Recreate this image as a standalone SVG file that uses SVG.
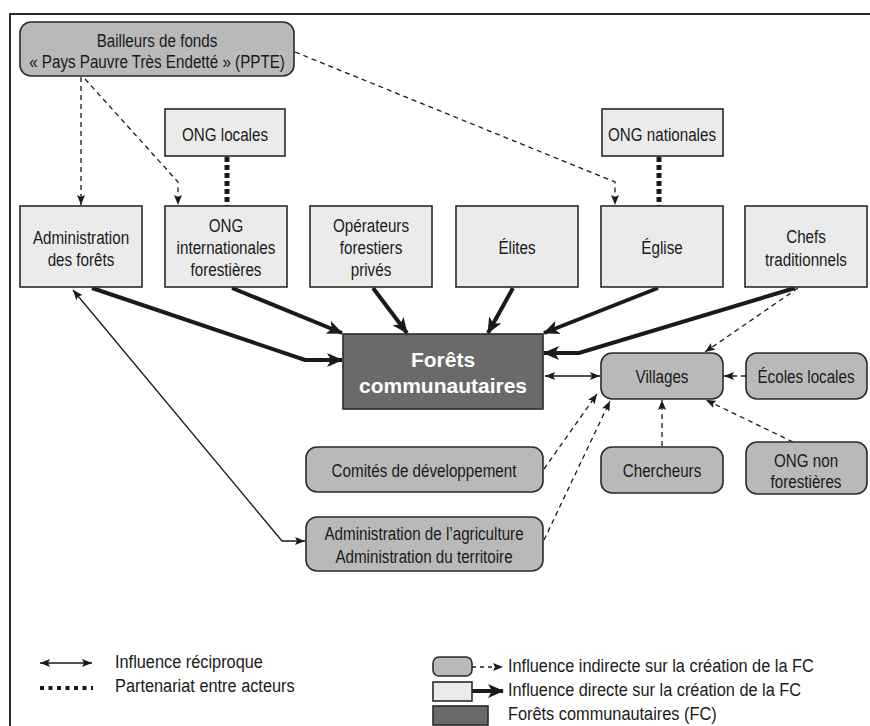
<svg xmlns="http://www.w3.org/2000/svg" width="870" height="726" viewBox="0 0 870 726">
<style>
.t{font-family:"Liberation Sans",Arial,sans-serif;font-size:19px;fill:#1a1a1a;text-anchor:middle}
.tl{font-family:"Liberation Sans",Arial,sans-serif;font-size:19px;fill:#1a1a1a}
.fc{font-family:"Liberation Sans",Arial,sans-serif;font-size:21px;font-weight:bold;fill:#ffffff;text-anchor:middle}
.light{fill:#ebebeb;stroke:#2a2a2a;stroke-width:1.6}
.gray{fill:#b9b9b9;stroke:#2a2a2a;stroke-width:1.6}
.dark{fill:#6a6a6a;stroke:#2a2a2a;stroke-width:1.6}
.thick{fill:none;stroke:#1a1a1a;stroke-width:4;marker-end:url(#ah)}
.dash{fill:none;stroke:#1a1a1a;stroke-width:1.3;stroke-dasharray:5 4;marker-end:url(#as)}
.thin{fill:none;stroke:#1a1a1a;stroke-width:1.3;marker-end:url(#as);marker-start:url(#as)}
.part{fill:none;stroke:#1a1a1a;stroke-width:5;stroke-dasharray:5 3}
</style>
<defs>
<marker id="ah" markerUnits="userSpaceOnUse" markerWidth="16" markerHeight="14" refX="15" refY="7" orient="auto">
<path d="M0,0 L16,7 L0,14 L4,7 z" fill="#1a1a1a"/>
</marker>
<marker id="as" markerUnits="userSpaceOnUse" markerWidth="10" markerHeight="8" refX="10" refY="4" orient="auto-start-reverse">
<path d="M0,0 L10,4 L0,8 L2,4 z" fill="#1a1a1a"/>
</marker>
</defs>
<rect width="870" height="726" fill="#ffffff"/>
<path d="M870,14 H10 V726" fill="none" stroke="#2a2a2a" stroke-width="2"/>

<g id="connectors">
<path class="part" d="M227,157 V206"/>
<path class="part" d="M659,157 V206"/>
<path class="dash" d="M81,77 V205"/>
<path class="dash" d="M85,79 L178,182 V205"/>
<path class="dash" d="M295,52 L615,182 V205"/>
<path class="thick" d="M92,288 L305,360 H342"/>
<path class="thick" d="M232,288 L342,333"/>
<path class="thick" d="M373,288 L407,333"/>
<path class="thick" d="M513,288 L488,333"/>
<path class="thick" d="M658,288 L544,333"/>
<path class="thick" d="M795,288 L579,353 H544"/>
<path class="thin" d="M545,376 H600"/>
<path class="dash" d="M798,288 L705,352"/>
<path class="dash" d="M746,376 H724"/>
<path class="dash" d="M662,446 V400"/>
<path class="dash" d="M793,442 L706,400"/>
<path class="dash" d="M544,469 L597,394"/>
<path class="dash" d="M544,540 L610,401"/>
<path class="thin" d="M73,290 L282,541 H305"/>
</g>

<g id="bailleurs">
<rect class="gray" x="20" y="22" width="274" height="54" rx="11"/>
<text class="t" transform="translate(157,47) scale(.8,1)">Bailleurs de fonds</text>
<text class="t" transform="translate(157,68) scale(.8,1)">« Pays Pauvre Très Endetté » (PPTE)</text>
</g>
<g id="ong-locales">
<rect class="light" x="165" y="109" width="120" height="47"/>
<text class="t" transform="translate(225,141) scale(.8,1)">ONG locales</text>
</g>
<g id="ong-nationales">
<rect class="light" x="602" y="109" width="121" height="47"/>
<text class="t" transform="translate(662,141) scale(.8,1)">ONG nationales</text>
</g>
<g id="admin-forets">
<rect class="light" x="20" y="206" width="122" height="81"/>
<text class="t" transform="translate(81,244) scale(.8,1)">Administration</text>
<text class="t" transform="translate(81,266) scale(.8,1)">des forêts</text>
</g>
<g id="ong-internationales">
<rect class="light" x="165" y="206" width="122" height="81"/>
<text class="t" transform="translate(226,232) scale(.8,1)">ONG</text>
<text class="t" transform="translate(226,254) scale(.8,1)">internationales</text>
<text class="t" transform="translate(226,276) scale(.8,1)">forestières</text>
</g>
<g id="operateurs">
<rect class="light" x="310" y="206" width="122" height="81"/>
<text class="t" transform="translate(371,232) scale(.8,1)">Opérateurs</text>
<text class="t" transform="translate(371,254) scale(.8,1)">forestiers</text>
<text class="t" transform="translate(371,276) scale(.8,1)">privés</text>
</g>
<g id="elites">
<rect class="light" x="456" y="206" width="122" height="81"/>
<text class="t" transform="translate(517,254) scale(.8,1)">Élites</text>
</g>
<g id="eglise">
<rect class="light" x="601" y="206" width="122" height="81"/>
<text class="t" transform="translate(662,254) scale(.8,1)">Église</text>
</g>
<g id="chefs">
<rect class="light" x="745" y="206" width="122" height="81"/>
<text class="t" transform="translate(806,243) scale(.8,1)">Chefs</text>
<text class="t" transform="translate(806,266) scale(.8,1)">traditionnels</text>
</g>
<g id="forets-communautaires">
<rect class="dark" x="343" y="334" width="200" height="75"/>
<text class="fc" x="443" y="367">Forêts</text>
<text class="fc" x="443" y="393">communautaires</text>
</g>
<g id="villages">
<rect class="gray" x="601" y="353" width="122" height="46" rx="11"/>
<text class="t" transform="translate(662,383) scale(.8,1)">Villages</text>
</g>
<g id="ecoles">
<rect class="gray" x="746" y="353" width="121" height="46" rx="11"/>
<text class="t" transform="translate(806,383) scale(.8,1)">Écoles locales</text>
</g>
<g id="comites">
<rect class="gray" x="306" y="447" width="237" height="45" rx="11"/>
<text class="t" transform="translate(424,477) scale(.8,1)">Comités de développement</text>
</g>
<g id="chercheurs">
<rect class="gray" x="601" y="447" width="122" height="46" rx="11"/>
<text class="t" transform="translate(662,477) scale(.8,1)">Chercheurs</text>
</g>
<g id="ong-non-forestieres">
<rect class="gray" x="746" y="442" width="121" height="52" rx="11"/>
<text class="t" transform="translate(806,467) scale(.8,1)">ONG non</text>
<text class="t" transform="translate(806,488) scale(.8,1)">forestières</text>
</g>
<g id="admin-agriculture">
<rect class="gray" x="306" y="517" width="237" height="54" rx="11"/>
<text class="t" transform="translate(424,540) scale(.8,1)">Administration de l’agriculture</text>
<text class="t" transform="translate(424,563) scale(.8,1)">Administration du territoire</text>
</g>

<g id="legend">
<path class="thin" d="M40,663 H92"/>
<text class="tl" transform="translate(115,668) scale(.86,1)">Influence réciproque</text>
<path d="M40,688 H93" fill="none" stroke="#1a1a1a" stroke-width="4" stroke-dasharray="4 4.5"/>
<text class="tl" transform="translate(115,692) scale(.86,1)">Partenariat entre acteurs</text>
<rect class="gray" x="433" y="657" width="39" height="19" rx="6"/>
<path d="M472,667 H503" fill="none" stroke="#1a1a1a" stroke-width="1.3" stroke-dasharray="4 4" marker-end="url(#as)"/>
<text class="tl" transform="translate(508,672) scale(.86,1)">Influence indirecte sur la création de la FC</text>
<rect class="light" x="433" y="682" width="39" height="19"/>
<path d="M472,691 H503" fill="none" stroke="#1a1a1a" stroke-width="4" marker-end="url(#ah)"/>
<text class="tl" transform="translate(508,696) scale(.86,1)">Influence directe sur la création de la FC</text>
<rect class="dark" x="433" y="706" width="55" height="19"/>
<text class="tl" transform="translate(508,720) scale(.86,1)">Forêts communautaires (FC)</text>
</g>
</svg>
